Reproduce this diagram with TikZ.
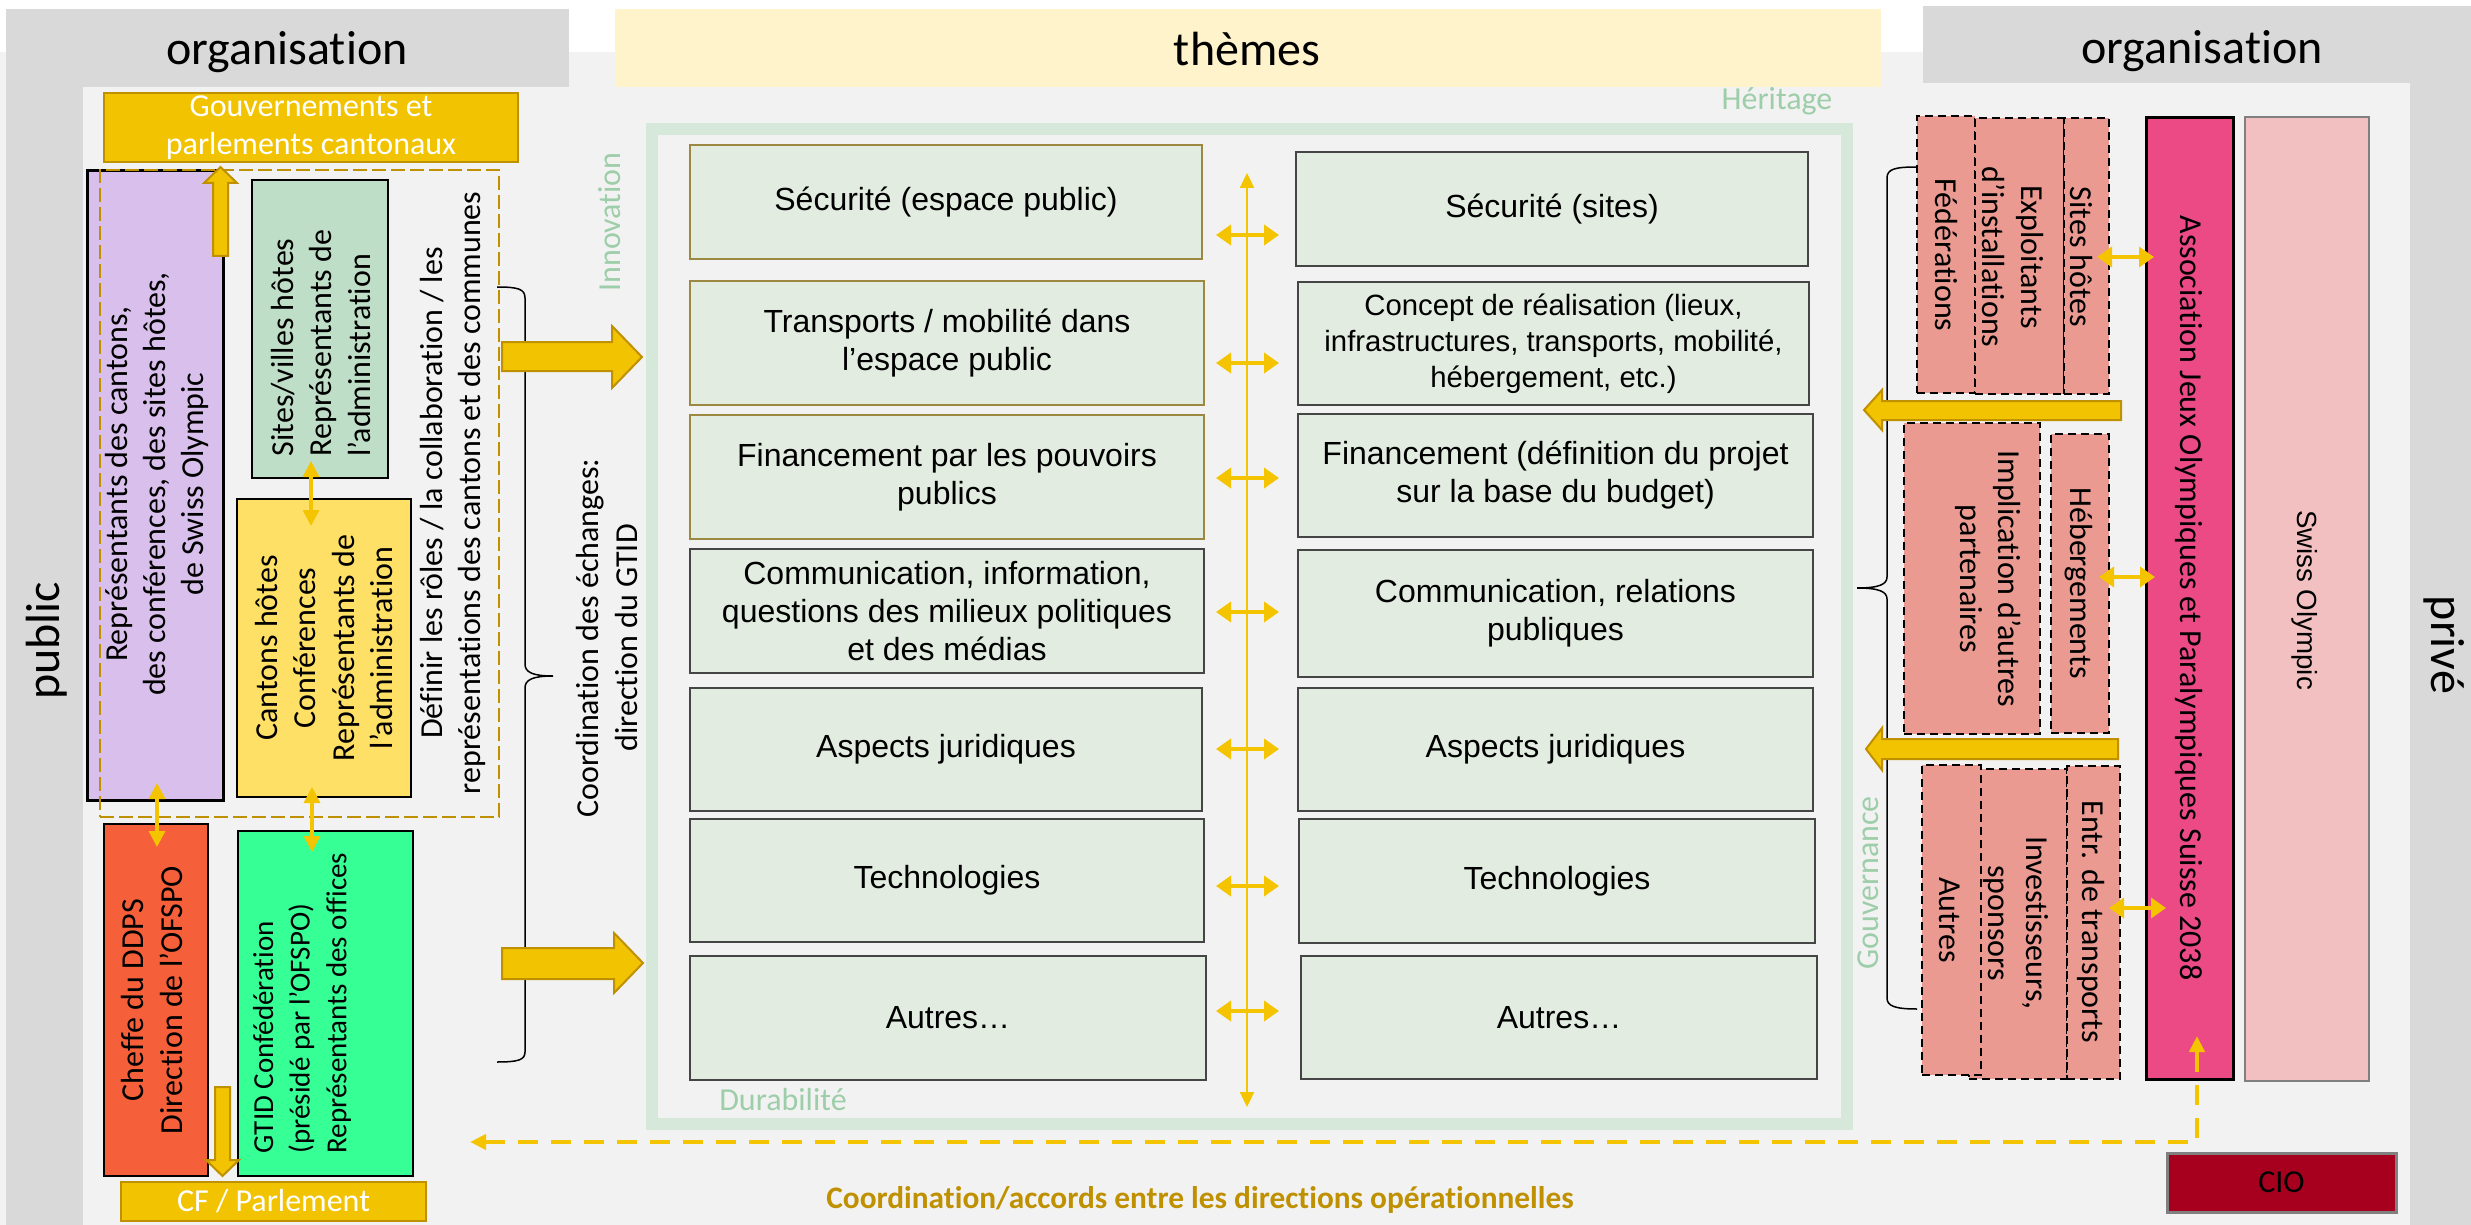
\documentclass[tikz,border=0pt]{standalone}
\usepackage{fontspec}
\setmainfont{Carlito}[Ligatures={NoCommon}]
\newfontfamily\arialf{Liberation Sans}
\usetikzlibrary{arrows.meta,fit}
\definecolor{bgl}{HTML}{F2F2F2}
\definecolor{hdr}{HTML}{D9D9D9}
\definecolor{themhdr}{HTML}{FFF3CC}
\definecolor{gold}{HTML}{F2C300}
\definecolor{golddark}{HTML}{BF9000}
\definecolor{goldline}{HTML}{F5C400}
\definecolor{themefill}{HTML}{E2ECE0}
\definecolor{olive}{HTML}{9C8840}
\definecolor{darkline}{HTML}{454545}
\definecolor{framec}{HTML}{D5E8D9}
\definecolor{lbl}{HTML}{9DCEA9}
\definecolor{purp}{HTML}{D9BFEB}
\definecolor{sitesg}{HTML}{BFDEC7}
\definecolor{yel}{HTML}{FFE066}
\definecolor{orng}{HTML}{F5603A}
\definecolor{bgreen}{HTML}{36FF96}
\definecolor{salmon}{HTML}{EA9A91}
\definecolor{assocp}{HTML}{EB4A85}
\definecolor{swissp}{HTML}{F2C0C0}
\definecolor{cioc}{HTML}{A6001E}
\begin{document}
\begin{tikzpicture}[x=0.3pt,y=-0.3pt,
 box/.style={inner sep=0pt, outer sep=0pt},
 txt/.style={font=\fontsize{9.6}{11.5}\selectfont, align=center, inner sep=0pt},
 hdrtxt/.style={font=\fontsize{14.4}{17}\selectfont, inner sep=0pt},
 thm/.style={box, fill=themefill, draw=darkline, line width=0.6pt},
 thmo/.style={box, fill=themefill, draw=olive, line width=0.6pt},
 thmtxt/.style={font=\arialf\fontsize{9.6}{11.4}\selectfont, align=center, inner sep=0pt},
 salm/.style={box, fill=salmon, draw=black, line width=0.6pt, dash pattern=on 2.4pt off 1.5pt},
 goldbox/.style={box, fill=gold, draw=golddark, line width=0.7pt},
 blockarrow/.style={fill=gold, draw=golddark, line width=0.6pt},
 dbl/.style={draw=goldline, line width=1.1pt, {Triangle[length=4.5pt,width=6pt]}-{Triangle[length=4.5pt,width=6pt]}},
 vdbl/.style={draw=goldline, line width=1pt, {Triangle[length=4.8pt,width=4.8pt]}-{Triangle[length=4.8pt,width=4.8pt]}},
 lbltxt/.style={font=\fontsize{9.6}{11.5}\selectfont, text=lbl, inner sep=0pt},
 bracestyle/.style={draw=black, line width=0.45pt},
]
\useasboundingbox (0,0) rectangle (2471,1225);
% backgrounds
\fill[white] (0,0) rectangle (2471,1225);
\fill[bgl] (0,52) rectangle (2471,1225);
\fill[hdr] (6,9) rectangle (569,87);
\fill[hdr] (6,87) rectangle (83,1225);
\fill[hdr] (1923,6) rectangle (2471,83);
\fill[hdr] (2410,83) rectangle (2471,1225);
\fill[themhdr] (615,9) rectangle (1881,87);
\node[hdrtxt] (hL) at (287,52) {organisation};
\node[hdrtxt] (hM) at (1247,49) {thèmes};
\node[hdrtxt] (hR) at (2202,51) {organisation};
\node[hdrtxt, rotate=90] (pub) at (47,641) {public};
\node[hdrtxt, rotate=-90] (priv) at (2444,645) {privé};

% ---------- left: public organisation
\node[goldbox, fit={(104,93) (518,162)}] (gov) {};
\node[txt, text=white] (govt) at (gov.center) {Gouvernements et\\parlements cantonaux};

\node[box, fill=purp, draw=black, line width=0.9pt, fit={(87,171) (223,800)}] (rep) {};
\node[txt, rotate=90] (rept) at (157,484) {Représentants des cantons,\\des conférences, des sites hôtes,\\de Swiss Olympic};

\node[box, fill=sitesg, draw=black, line width=0.75pt, fit={(252,180) (388,478)}] (sites) {};
\node[txt, rotate=90, align=left, anchor=west] (sitest) at (321,457) {Sites/villes hôtes\\Représentants de\\l’administration};

\node[box, fill=yel, draw=black, line width=0.75pt, fit={(237,499) (411,797)}] (cant) {};
\node[txt, rotate=90] (cantt) at (324,648) {Cantons hôtes\\Conférences\\Représentants de\\l’administration};

\node[txt, rotate=90] (def) at (453,493) {Définir les rôles / la collaboration / les\\représentations des cantons et des communes};

\node[box, draw=golddark, line width=0.75pt, dash pattern=on 4.2pt off 1.5pt, fit={(100,170) (499,817)}] (dbox) {};

\node[box, fill=orng, draw=black, line width=0.75pt, fit={(104,824) (208,1176)}] (chef) {};
\node[txt, rotate=90] (cheft) at (152,1000) {Cheffe du DDPS\\Direction de l’OFSPO};

\node[box, fill=bgreen, draw=black, line width=0.75pt, fit={(238,831) (413,1176)}] (gtid) {};
\node[txt, font=\fontsize{8.7}{11}\selectfont, rotate=90, align=left] (gtidt) at (302,1003) {GTID Confédération\\(présidé par l’OFSPO)\\Représentants des offices};

\node[goldbox, fit={(121,1182) (426,1221)}] (cf) {};
\node[txt, text=white] (cft) at (cf.center) {CF / Parlement};

% block arrows left
\draw[blockarrow] (213,256) -- (213,183) -- (204,183) -- (220.5,167) -- (237,183) -- (228,183) -- (228,256) -- cycle;
\draw[blockarrow] (215,1087) -- (215,1160) -- (206,1160) -- (222.5,1176) -- (239,1160) -- (230,1160) -- (230,1087) -- cycle;

% thin arrows left
\draw[vdbl] (157,783) -- (157,847);
\draw[vdbl] (311,461) -- (311,526);
\draw[vdbl] (312,787) -- (312,852);

% left brace
\draw[bracestyle] (497,287) .. controls (518,287) and (525,289) .. (525,298) -- (525,664) .. controls (525,672) and (532,676) .. (553,676) .. controls (532,676) and (525,680) .. (525,688) -- (525,1052) .. controls (525,1060) and (518,1062) .. (497,1062);
\node[txt, rotate=90] (coord) at (607,638) {Coordination des échanges:\\direction du GTID};

\draw[blockarrow] (502,342) -- (612,342) -- (612,326) -- (642,357) -- (612,388) -- (612,371) -- (502,371) -- cycle;
\draw[blockarrow] (502,948) -- (614,948) -- (614,933) -- (643,963) -- (614,993) -- (614,979) -- (502,979) -- cycle;

% ---------- middle: themes
\draw[framec, line width=3.6pt] (652,129) rectangle (1847,1124);
\node[lbltxt, rotate=90] (inno) at (610,222) {Innovation};
\node[lbltxt] (heri) at (1777,101) {Héritage};
\node[lbltxt] (dura) at (783,1100) {Durabilité};
\node[lbltxt, rotate=90] (gouv) at (1868,883) {Gouvernance};

\node[thmo, fit={(690,145) (1202,259)}] (L1) {};
\node[thmtxt] at (L1.center) {Sécurité (espace public)};
\node[thmo, fit={(690,281) (1204,405)}] (L2) {};
\node[thmtxt] at (L2.center) {Transports / mobilité dans\\l’espace public};
\node[thmo, fit={(690,415) (1204,539)}] (L3) {};
\node[thmtxt] at (L3.center) {Financement par les pouvoirs\\publics};
\node[thm, fit={(690,549) (1204,673)}] (L4) {};
\node[thmtxt] at (L4.center) {Communication, information,\\questions des milieux politiques\\et des médias};
\node[thm, fit={(690,688) (1202,811)}] (L5) {};
\node[thmtxt] at (L5.center) {Aspects juridiques};
\node[thm, fit={(690,819) (1204,942)}] (L6) {};
\node[thmtxt] at (L6.center) {Technologies};
\node[thm, fit={(690,956) (1206,1080)}] (L7) {};
\node[thmtxt] at (L7.center) {Autres…};

\node[thm, fit={(1296,152) (1808,266)}] (R1) {};
\node[thmtxt] at (R1.center) {Sécurité (sites)};
\node[thm, fit={(1298,282) (1809,405)}] (R2) {};
\node[thmtxt, font=\arialf\fontsize{8.8}{10.8}\selectfont] at (R2.center) {Concept de réalisation (lieux,\\infrastructures, transports, mobilité,\\hébergement, etc.)};
\node[thm, fit={(1298,414) (1813,537)}] (R3) {};
\node[thmtxt] at (R3.center) {Financement (définition du projet\\sur la base du budget)};
\node[thm, fit={(1298,550) (1813,677)}] (R4) {};
\node[thmtxt] at (R4.center) {Communication, relations\\publiques};
\node[thm, fit={(1298,688) (1813,811)}] (R5) {};
\node[thmtxt] at (R5.center) {Aspects juridiques};
\node[thm, fit={(1299,819) (1815,943)}] (R6) {};
\node[thmtxt] at (R6.center) {Technologies};
\node[thm, fit={(1301,956) (1817,1079)}] (R7) {};
\node[thmtxt] at (R7.center) {Autres…};

\draw[draw=goldline, line width=0.7pt, {Triangle[length=4.5pt,width=4.2pt]}-{Triangle[length=4.5pt,width=4.2pt]}] (1247,173) -- (1247,1107);
\foreach \yy in {235,363,478,612,749,886,1011} \draw[dbl] (1216,\yy) -- (1279,\yy);

% ---------- right: private organisation
\node[salm, fit={(1917,116) (1975,393)}] (fed) {};
\node[salm, fit={(1975,118) (2064,394)}] (expl) {};
\node[salm, fit={(2064,118) (2109,394)}] (siteh) {};
\node[txt, rotate=-90] at (1946,255) {Fédérations};
\node[txt, rotate=-90] at (2013,257) {Exploitants\\d’installations};
\node[txt, rotate=-90] at (2081,257) {Sites hôtes};

\node[salm, fit={(1904,423) (2040,734)}] (impl) {};
\node[salm, fit={(2051,434) (2109,733)}] (heb) {};
\node[txt, rotate=-90] at (1988,579) {Implication d’autres\\partenaires};
\node[txt, rotate=-90] at (2079,583) {Hébergements};

\node[salm, fit={(1969,769) (2067,1079)}] (inv) {};
\node[salm, fit={(1922,765) (1981,1075)}] (autr) {};
\node[salm, fit={(2067,766) (2120,1079)}] (entr) {};
\node[txt, rotate=-90] at (1950,920) {Autres};
\node[txt, rotate=-90] at (2016,923) {Investisseurs,\\sponsors};
\node[txt, rotate=-90] at (2091,922) {Entr. de transports};

\node[box, fill=assocp, draw=black, line width=0.9pt, fit={(2146,118) (2233,1079)}] (assoc) {};
\node[txt, rotate=-90] at (2189,598) {Association Jeux Olympiques et Paralympiques Suisse 2038};
\node[box, fill=swissp, draw=gray, line width=0.6pt, fit={(2245,117) (2369,1081)}] (swiss) {};
\node[txt, font=\arialf\fontsize{8.3}{10}\selectfont, rotate=-90] at (2305,600) {Swiss Olympic};
\node[box, fill=cioc, draw=gray, line width=0.9pt, fit={(2167,1153) (2396,1212)}] (cio) {};
\node[txt] at (cio.center) {CIO};

% right brace
\draw[bracestyle] (1917,167) .. controls (1895,167) and (1887,169) .. (1887,178) -- (1887,577) .. controls (1887,584) and (1880,588) .. (1857,588) .. controls (1880,588) and (1887,592) .. (1887,599) -- (1887,998) .. controls (1887,1006) and (1895,1009) .. (1917,1009);

% left-pointing block arrows
\draw[blockarrow] (2121,401) -- (1882,401) -- (1882,390) -- (1864,410) -- (1882,430) -- (1882,420) -- (2121,420) -- cycle;
\draw[blockarrow] (2118,739) -- (1882,739) -- (1882,728) -- (1866,749) -- (1882,770) -- (1882,759) -- (2118,759) -- cycle;

% double arrows right
\draw[dbl] (2097,257) -- (2154,257);
\draw[dbl] (2099,577) -- (2155,577);
\draw[dbl] (2109,908) -- (2166,908);

% feedback dashed
\coordinate (fbL) at (470,1142);
\coordinate (fbC) at (2197,1142);
\coordinate (fbT) at (2197,1036);
\draw[draw=goldline, line width=1.35pt, dash pattern=on 6pt off 3.9pt, {Triangle[length=4.8pt,width=4.5pt]}-{Triangle[length=4.8pt,width=4.5pt]}] (fbL) -- (fbC) -- (fbT);
\node[txt, font=\bfseries\fontsize{9.4}{11}\selectfont, text=golddark] (coordacc) at (1200,1200) {Coordination/accords entre les directions opérationnelles};
\end{tikzpicture}
\end{document}
